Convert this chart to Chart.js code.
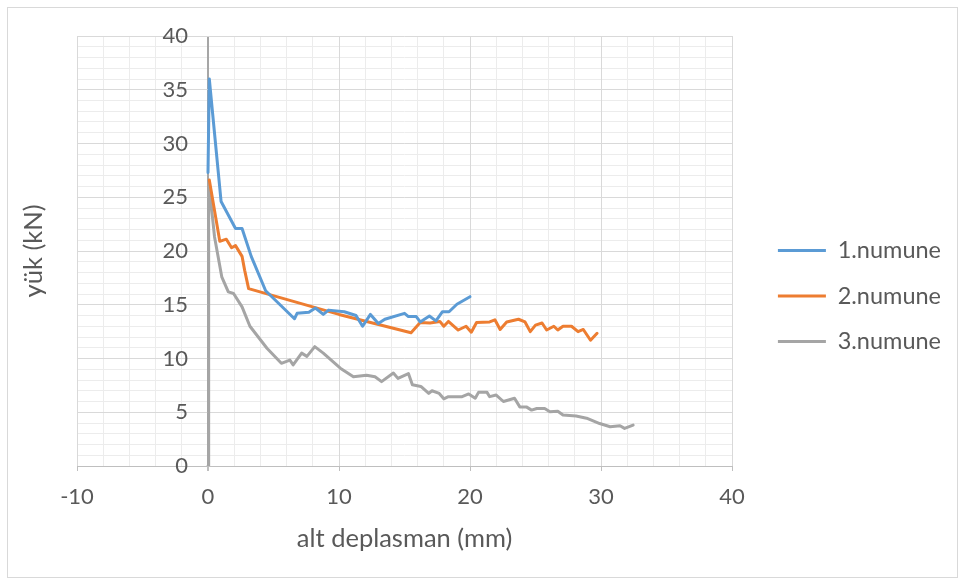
<!DOCTYPE html>
<html lang="tr">
<head>
<meta charset="UTF-8">
<title>yük - alt deplasman</title>
<style>
  html, body { margin: 0; padding: 0; background: #fff; }
  #wrap { position: relative; width: 960px; height: 580px; }
  #frame { position: absolute; left: 7px; top: 7px; width: 951px; height: 571px; border: 1px solid #d9d9d9; box-sizing: border-box; pointer-events: none; }
</style>
</head>
<body>
<div id="wrap">
  <canvas id="chart"></canvas>
  <div id="frame"></div>
</div>
<script src="https://cdn.jsdelivr.net/npm/chart.js@4.4.1/dist/chart.umd.min.js"></script>
<script>
// series names
const seriesNames = ['1.numune', '2.numune', '3.numune'];

// 1.numune
const s1x = [0, 0.1, 1.0, 2.1, 2.6, 3.3, 4.4, 6.6, 6.8, 7.7, 8.2, 8.8, 9.2, 10.4, 11.3, 11.8, 12.4, 13.0, 13.5, 15.0, 15.3, 15.9, 16.2, 16.9, 17.4, 17.9, 18.4, 19.0, 20.0];
const s1y = [27.3, 36.0, 24.6, 22.1, 22.1, 19.5, 16.3, 13.7, 14.2, 14.3, 14.7, 14.1, 14.5, 14.35, 14.0, 13.0, 14.1, 13.25, 13.65, 14.2, 13.9, 13.9, 13.4, 13.95, 13.5, 14.35, 14.35, 15.05, 15.75];

// 2.numune
const s2x = [0.1, 0.9, 1.4, 1.8, 2.1, 2.6, 2.8, 3.1, 10.0, 15.5, 16.2, 16.95, 17.7, 18.0, 18.35, 19.1, 19.7, 20.1, 20.5, 21.5, 21.9, 22.3, 22.8, 23.7, 24.2, 24.6, 25.0, 25.5, 25.85, 26.4, 26.7, 27.1, 27.75, 28.25, 28.65, 29.2, 29.7];
const s2y = [26.6, 20.9, 21.1, 20.3, 20.5, 19.5, 18.2, 16.5, 14.1, 12.4, 13.35, 13.3, 13.45, 13.0, 13.45, 12.65, 13.0, 12.45, 13.35, 13.4, 13.6, 12.7, 13.4, 13.65, 13.4, 12.5, 13.1, 13.3, 12.65, 13.0, 12.65, 13.0, 13.0, 12.5, 12.7, 11.7, 12.35];

// 3.numune
const s3x = [0, 0.05, 0.5, 1.05, 1.55, 1.95, 2.6, 3.2, 4.5, 5.6, 6.25, 6.5, 7.15, 7.55, 8.15, 8.8, 10.1, 11.1, 12.1, 12.75, 13.25, 14.15, 14.5, 15.3, 15.6, 16.25, 16.85, 17.1, 17.65, 18.0, 18.35, 19.4, 19.9, 20.4, 20.65, 21.3, 21.5, 22.0, 22.55, 23.4, 23.8, 24.3, 24.7, 25.1, 25.7, 26.1, 26.7, 27.1, 28.1, 28.9, 29.9, 30.7, 31.45, 31.8, 32.45];
const s3y = [0, 26.5, 21.3, 17.6, 16.2, 16.05, 14.8, 13.0, 10.95, 9.55, 9.85, 9.4, 10.5, 10.2, 11.1, 10.5, 9.1, 8.3, 8.45, 8.3, 7.85, 8.65, 8.15, 8.6, 7.55, 7.4, 6.75, 7.0, 6.75, 6.25, 6.45, 6.45, 6.7, 6.3, 6.85, 6.85, 6.45, 6.6, 6.0, 6.3, 5.5, 5.5, 5.2, 5.35, 5.35, 5.05, 5.1, 4.75, 4.65, 4.45, 3.95, 3.65, 3.75, 3.5, 3.8];

// axis ticks
const xTickVals = [-10, 0, 10, 20, 30, 40];
const yTickVals = [0, 5, 10, 15, 20, 25, 30, 35, 40];
const xTitle = 'alt deplasman (mm)';
const yTitle = 'yük (kN)';

const colors = ['#5b9bd5', '#ed7d31', '#a5a5a5'];
const textColor = '#595959';

function pts(xs, ys) {
  return xs.map((x, i) => ({x: x, y: ys[i]}));
}

Chart.defaults.font.family = 'Lato';
Chart.defaults.color = textColor;

const datasets = [[s1x, s1y], [s2x, s2y], [s3x, s3y]].map((s, i) => ({
  label: seriesNames[i],
  data: pts(s[0], s[1]),
  borderColor: colors[i],
  backgroundColor: colors[i],
  borderWidth: 3,
  borderJoinStyle: 'round',
  borderCapStyle: 'round',
  pointRadius: 0,
  showLine: true,
  tension: 0
}));

const PLOT_RIGHT = 732;
const Y_LABEL_RIGHT = 188;

new Chart(document.getElementById('chart'), {
  type: 'scatter',
  data: {datasets: datasets},
  options: {
    responsive: true,
    maintainAspectRatio: false,
    animation: false,
    layout: {padding: {top: 36, bottom: 24, left: 0, right: 9}},
    plugins: {
      tooltip: {enabled: false},
      legend: {
        position: 'right',
        maxWidth: 400,
        labels: {
          boxWidth: 48,
          boxHeight: 3,
          padding: 22,
          color: textColor,
          font: {size: 23.5},
          generateLabels(chart) {
            return Chart.defaults.plugins.legend.labels.generateLabels(chart).map(l => {
              l.lineWidth = 0;
              l.fillStyle = colors[l.datasetIndex];
              return l;
            });
          }
        }
      }
    },
    scales: {
      xMinor: {
        type: 'linear', position: 'bottom', min: -10, max: 40, z: -1,
        ticks: {display: false, stepSize: 2},
        grid: {color: '#ececec', drawTicks: false},
        border: {display: false},
        afterFit(s) { s.height = 0; }
      },
      yMinor: {
        type: 'linear', position: 'left', min: 0, max: 40, z: -1,
        ticks: {display: false, stepSize: 1},
        grid: {color: '#ececec', drawTicks: false},
        border: {display: false},
        afterFit(s) { s.width = 0; }
      },
      x: {
        type: 'linear', position: 'bottom', min: -10, max: 40,
        afterBuildTicks(s) { s.ticks = xTickVals.map(v => ({value: v})); },
        ticks: {padding: 13, font: {size: 22}, color: textColor},
        grid: {
          color: c => (c.tick && c.tick.value === 0) ? '#a6a6a6' : '#d9d9d9',
          lineWidth: c => (c.tick && c.tick.value === 0) ? 2 : 1,
          tickColor: '#bfbfbf',
          tickLength: 5
        },
        border: {color: '#bfbfbf', width: 1},
        title: {display: true, text: xTitle, color: textColor, font: {size: 25.5}, padding: {top: 0, bottom: 2}},
        afterFit(s) { s.height = 90; }
      },
      y: {
        type: 'linear', position: 'left', min: 0, max: 40,
        afterBuildTicks(s) { s.ticks = yTickVals.map(v => ({value: v})); },
        // mirrored labels, pushed right so they end just left of the x = 0 line
        ticks: {
          mirror: true, crossAlign: 'far', font: {size: 22}, color: textColor,
          padding: 85
        },
        afterFit(s) {
          s.width = 77;
          s.paddingTop = 0;
          s.paddingBottom = 0;
          const ctx = s.ctx;
          ctx.save();
          ctx.font = '22px Lato';
          const widest = Math.max(...yTickVals.map(v => ctx.measureText(String(v)).width));
          ctx.restore();
          s.options.ticks.padding = Y_LABEL_RIGHT - 77 - widest;
        },
        grid: {color: '#d9d9d9', drawTicks: false},
        border: {display: false},
        title: {display: true, text: yTitle, color: textColor, font: {size: 25.5}, padding: {top: 18, bottom: 0}}
      },
      yR: {
        type: 'linear', position: 'right', min: 0, max: 1,
        ticks: {display: false},
        grid: {display: false, drawTicks: false},
        border: {display: false},
        afterFit(s) {
          const lg = s.chart.legend;
          const w = lg && lg.width ? s.chart.width - 9 - lg.width - PLOT_RIGHT : 30;
          s.width = Math.max(0, w);
        }
      }
    }
  }
});
</script>
</body>
</html>
